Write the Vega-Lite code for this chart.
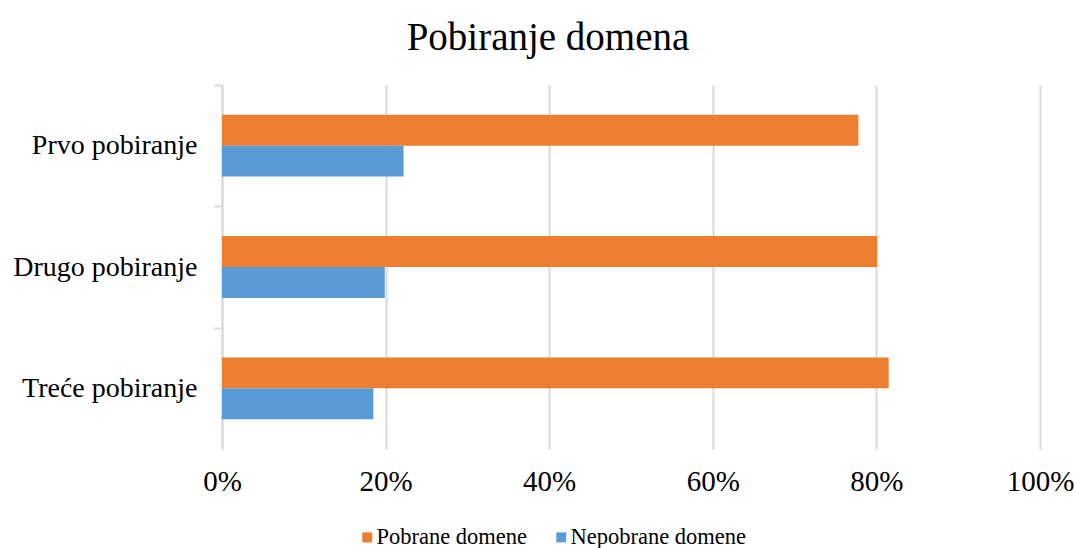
{
  "$schema": "https://vega.github.io/schema/vega-lite/v6.json",
  "width": 818,
  "height": 364,
  "autosize": "none",
  "padding": {"left": 222, "top": 85, "right": 35, "bottom": 99},
  "background": "white",
  "config": {"font": "Liberation Serif", "view": {"stroke": null}},
  "title": {"text": "Pobiranje domena", "fontSize": 39, "font": "Liberation Serif", "fontWeight": "normal", "color": "#000000", "anchor": "middle", "dx": -83, "offset": 26},
  "data": {"values": [
    {"pobiranje": "Prvo pobiranje", "serija": "Pobrane domene", "udio": 0.778},
    {"pobiranje": "Prvo pobiranje", "serija": "Nepobrane domene", "udio": 0.222},
    {"pobiranje": "Drugo pobiranje", "serija": "Pobrane domene", "udio": 0.801},
    {"pobiranje": "Drugo pobiranje", "serija": "Nepobrane domene", "udio": 0.199},
    {"pobiranje": "Treće pobiranje", "serija": "Pobrane domene", "udio": 0.815},
    {"pobiranje": "Treće pobiranje", "serija": "Nepobrane domene", "udio": 0.185}
  ]},
  "mark": {"type": "bar"},
  "encoding": {
    "y": {"field": "pobiranje", "type": "nominal", "sort": ["Prvo pobiranje", "Drugo pobiranje", "Treće pobiranje"],
      "scale": {"paddingInner": 0.49, "paddingOuter": 0.245},
      "axis": {"title": null, "labelFontSize": 28, "labelColor": "#000000", "labelFont": "Liberation Serif", "labelLimit": 400, "domainColor": "#d9d9d9", "domainWidth": 2, "tickColor": "#d9d9d9", "tickWidth": 2, "tickSize": 8, "tickOffset": -60.67, "labelOffset": 60.67, "labelPadding": 17, "grid": false}},
    "yOffset": {"field": "serija", "type": "nominal", "sort": ["Pobrane domene", "Nepobrane domene"], "scale": {"paddingInner": 0, "paddingOuter": 0}},
    "x": {"field": "udio", "type": "quantitative", "scale": {"domain": [0, 1]},
      "axis": {"title": null, "format": ".0%", "values": [0, 0.2, 0.4, 0.6, 0.8, 1], "labelFontSize": 29, "labelColor": "#000000", "labelFont": "Liberation Serif", "labelFlush": false, "domain": false, "ticks": false, "labelPadding": 18, "grid": true, "gridColor": "#d9d9d9", "gridWidth": 2}},
    "color": {"field": "serija", "type": "nominal", "sort": ["Pobrane domene", "Nepobrane domene"],
      "scale": {"domain": ["Pobrane domene", "Nepobrane domene"], "range": ["#ED7D31", "#5B9BD5"]},
      "legend": {"title": null, "orient": "none", "legendX": 134, "legendY": 441, "direction": "horizontal", "symbolType": "square", "symbolSize": 100, "symbolStrokeWidth": 0, "labelFontSize": 22.5, "labelFont": "Liberation Serif", "labelColor": "#000000", "labelLimit": 400, "columnPadding": 22, "labelOffset": -2}}
  }
}
